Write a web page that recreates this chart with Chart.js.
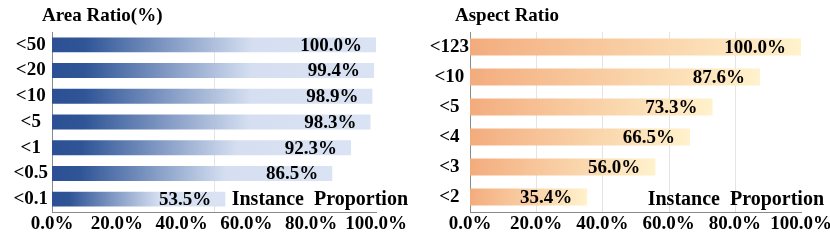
<!DOCTYPE html>
<html>
<head>
<meta charset="utf-8">
<script src="https://cdn.jsdelivr.net/npm/chart.js@4/dist/chart.umd.min.js"></script>
<style>
  body { margin: 0; background: #fff; }
  .wrap { display: flex; width: 830px; height: 249px; }
  canvas { display: block; }
</style>
</head>
<body>
<div class="wrap">
  <canvas id="areaChart" width="415" height="249"></canvas>
  <canvas id="aspectChart" width="415" height="249"></canvas>
</div>
<script>
// Left panel: area ratio
const areaLabels = ['<50', '<20', '<10', '<5', '<1', '<0.5', '<0.1'];
const areaValues = [100.0, 99.4, 98.9, 98.3, 92.3, 86.5, 53.5];
const areaGridValues = [50];

// Right panel: aspect ratio
const aspectLabels = ['<123', '<10', '<5', '<4', '<3', '<2'];
const aspectValues = [100.0, 87.6, 73.3, 66.5, 56.0, 35.4];
const aspectGridValues = [20, 40, 60, 80];

const xTicks = [0, 20, 40, 60, 80, 100];
const SERIF = '"Liberation Serif", "Times New Roman", serif';

Chart.defaults.font.family = SERIF;
Chart.defaults.font.weight = 'bold';
Chart.defaults.font.size = 19;
Chart.defaults.color = '#000';

// gradient along each bar, from its base to its end
function barGradient(stops) {
    return function(context) {
        if (context.type !== 'data') return stops[0][1];
        const chart = context.chart;
        const x = chart.scales.x;
        if (!x) return stops[0][1];
        const x0 = x.getPixelForValue(0);
        const x1 = x.getPixelForValue(context.raw);
        if (!isFinite(x0) || !isFinite(x1) || x1 - x0 < 1) return stops[0][1];
        const g = chart.ctx.createLinearGradient(x0, 0, x1, 0);
        stops.forEach(s => g.addColorStop(s[0], s[1]));
        return g;
    };
}

// panel title, value labels, "Instance Proportion" and the few grid lines
const decorPlugin = {
    id: 'decor',
    beforeDatasetsDraw(chart, args, opts) {
        const { ctx, chartArea } = chart;
        const x = chart.scales.x;
        ctx.save();
        ctx.strokeStyle = '#e4e4e4';
        ctx.lineWidth = 1;
        opts.grid.forEach(v => {
            const px = Math.round(x.getPixelForValue(v)) + 0.5;
            ctx.beginPath();
            ctx.moveTo(px, chartArea.top);
            ctx.lineTo(px, chartArea.bottom);
            ctx.stroke();
        });
        ctx.restore();
    },
    afterDatasetsDraw(chart, args, opts) {
        const { ctx } = chart;
        const meta = chart.getDatasetMeta(0);
        const values = chart.data.datasets[0].data;
        ctx.save();
        ctx.fillStyle = '#000';
        ctx.font = 'bold 19px ' + SERIF;
        ctx.textAlign = 'right';
        ctx.textBaseline = 'middle';
        meta.data.forEach((bar, i) => {
            ctx.fillText(values[i].toFixed(1) + '%', bar.x - opts.labelGap, bar.y + 1);
        });
        // title
        ctx.textAlign = 'left';
        ctx.fillText(opts.title, opts.titleX, 16);
        // axis caption
        ctx.font = 'bold 20px ' + SERIF;
        ctx.textAlign = 'right';
        ctx.fillText('Instance  Proportion', opts.captionX, 200);
        ctx.restore();
    }
};

function makeChart(id, labels, values, cfg) {
    const ctx = document.getElementById(id).getContext('2d');
    return new Chart(ctx, {
        type: 'bar',
        data: {
            labels: labels,
            datasets: [{
                data: values,
                backgroundColor: barGradient(cfg.stops),
                borderWidth: 0,
                barPercentage: cfg.barPercentage,
                categoryPercentage: 1.0
            }]
        },
        options: {
            indexAxis: 'y',
            responsive: false,
            devicePixelRatio: 1,
            animation: false,
            layout: {
                padding: { top: 32, right: cfg.rightPad, bottom: 0, left: 0 }
            },
            scales: {
                x: {
                    min: 0,
                    max: 100,
                    afterBuildTicks: axis => {
                        axis.ticks = xTicks.map(v => ({ value: v }));
                    },
                    afterFit: axis => {
                        axis.height = 37;
                        axis.paddingLeft = 0;
                        axis.paddingRight = 0;
                    },
                    grid: { display: false, drawTicks: false },
                    border: { display: true, color: '#8a8a8a', width: 1 },
                    ticks: {
                        padding: 1,
                        maxRotation: 0,
                        autoSkip: false,
                        callback: v => Number(v).toFixed(1) + '%'
                    }
                },
                y: {
                    afterFit: axis => { axis.width = cfg.yWidth; },
                    grid: { display: false, drawTicks: false },
                    border: { display: true, color: '#8a8a8a', width: 1 },
                    ticks: {
                        padding: cfg.yPad,
                        crossAlign: 'center',
                        autoSkip: false
                    }
                }
            },
            plugins: {
                legend: { display: false },
                tooltip: { enabled: false },
                decor: {
                    title: cfg.title,
                    titleX: cfg.titleX,
                    captionX: cfg.captionX,
                    labelGap: cfg.labelGap,
                    grid: cfg.grid
                }
            }
        },
        plugins: [decorPlugin]
    });
}

makeChart('areaChart', areaLabels, areaValues, {
    title: 'Area Ratio(%)',
    titleX: 42,
    captionX: 408,
    labelGap: 14,
    grid: areaGridValues,
    yWidth: 52,
    yPad: 4,
    rightPad: 39,
    barPercentage: 0.58,
    stops: [[0, '#2c5093'], [0.1, '#2f5597'], [0.62, '#d5dff1'], [1, '#dae3f3']]
});

makeChart('aspectChart', aspectLabels, aspectValues, {
    title: 'Aspect Ratio',
    titleX: 40,
    captionX: 409,
    labelGap: 15,
    grid: aspectGridValues,
    yWidth: 55,
    yPad: 1,
    rightPad: 29,
    barPercentage: 0.57,
    stops: [[0, '#f2ab7c'], [0.06, '#f4b183'], [1, '#fff2cc']]
});
</script>
</body>
</html>
